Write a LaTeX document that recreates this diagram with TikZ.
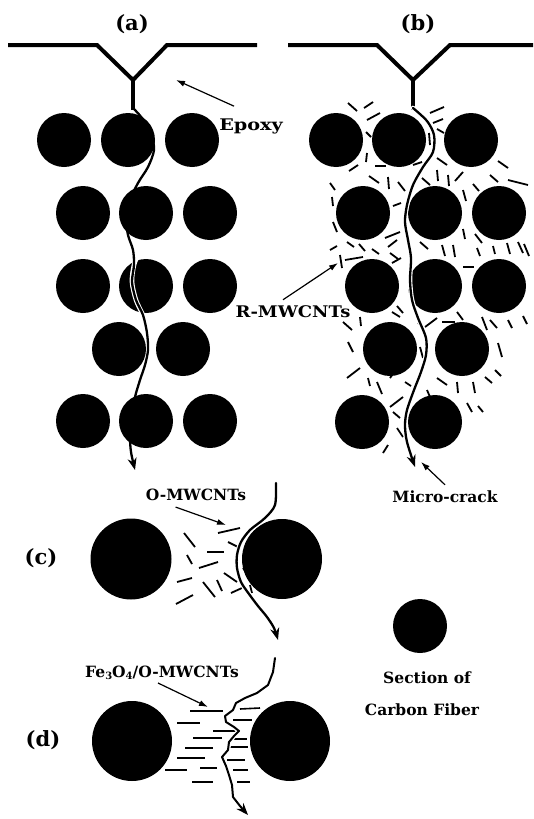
\documentclass[tikz,border=0pt]{standalone}
\usepackage{fontspec}
\setmainfont{DejaVu Serif}
\usetikzlibrary{arrows.meta}
\newcommand\smalldigit[1]{\raisebox{-1.5pt}{\fontsize{10}{10}\selectfont #1}}
\newcommand\widen[2]{\scalebox{#1}[1]{#2}}
\begin{document}
\begin{tikzpicture}[x=1pt,y=-1pt,
  notch/.style={line width=4pt,line join=miter},
  crack/.style={line width=2.3pt,line cap=round,-{Stealth[length=12pt,width=9pt]}},
  halo/.style={white,line width=4.6pt,line cap=round},
  cnt/.style={line width=1.8pt},
  pointer/.style={line width=1.2pt,-{Latex[length=9pt,width=6pt]}},
  lbl/.style={font=\bfseries\fontsize{15.5}{18}\selectfont,inner sep=0pt},
  biglbl/.style={font=\bfseries\fontsize{16}{18}\selectfont,inner sep=0pt},
  panel/.style={font=\bfseries\fontsize{21}{24}\selectfont,inner sep=0pt}]
\useasboundingbox (0,0) rectangle (533,819);
\fill[white] (0,0) rectangle (533,819);

% ---------- (a) laminate without nanotubes ----------
\node[panel] (pa) at (132,24) {(a)};
\draw[notch] (8,45) -- (97,45) -- (133,80) -- (167,45) -- (257,45);
\draw[notch] (133,80) -- (133,110);
\foreach \x in {64,128,192} \fill (\x,140) circle (27pt);
\foreach \y in {213,286,421} \foreach \x in {83,146,210} \fill (\x,\y) circle (27pt);
\foreach \x in {119,183} \fill (\x,349) circle (27pt);
\def\crackA{(133,108) (142,118) (151,133) (154,150) (148,167) (138,183) (130,200) (126,218) (128,235) (133,250) (134,265) (132,282) (136,300) (143,315) (147,333) (148,350) (145,365) (140,380) (135,397) (132,415) (130,435) (131,452) (135,470)}
\draw[halo] plot[smooth] coordinates {(140,250) (134,265) (132,282) (136,300) (143,315)};
\draw[crack] plot[smooth] coordinates \crackA;
\node[biglbl] (epoxy) at (251,126) {\widen{1.2}{Epoxy}};
\coordinate (epoxytip) at (176,80);
\draw[pointer] (epoxy.north west) ++(15,-12) coordinate (epoxytail) -- (epoxytip);

% ---------- (b) laminate with R-MWCNTs ----------
\node[panel] (pb) at (418,24) {(b)};
\draw[notch] (288,45) -- (377,45) -- (413,80) -- (450,45) -- (533,45);
\draw[notch] (413,80) -- (413,110);
\foreach \x in {336,399,471} \fill (\x,140) circle (27pt);
\foreach \x in {363,435,499} \fill (\x,213) circle (27pt);
\foreach \x in {372,435,499} \fill (\x,286) circle (27pt);
\foreach \x in {390,462} \fill (\x,349) circle (27pt);
\foreach \x in {362,435} \fill (\x,422) circle (27pt);
\foreach \ax/\ay/\bx/\by in {
  348/103/357/111, 364/108/373/102, 367/120/380/113, 430/113/444/107,
  433/123/443/119, 437/129/444/133, 429/133/430/145, 366/132/371/137,
  367/153/366/162, 375/166/386/166, 413/165/422/162, 437/158/447/165,
  437/170/438/181, 448/175/449/186, 455/181/463/172, 463/190/466/201,
  473/184/479/191, 490/175/498/182, 498/161/508/168, 508/180/528/185,
  349/171/358/165, 369/176/379/183, 388/177/389/189, 398/182/405/191,
  422/178/430/185, 330/183/335/190, 332/197/333/206, 393/206/401/203,
  333/222/337/232, 385/238/400/232, 330/250/337/246, 347/242/354/247,
  359/244/365/251, 372/249/379/254, 388/247/397/240, 390/253/398/259,
  340/255/342/268, 345/260/363/257, 392/263/401/258, 420/242/428/249,
  442/245/445/256, 453/245/455/257, 463/229/465/239, 475/234/482/243,
  477/248/480/256, 493/246/495/254, 463/267/474/267, 507/243/510/254,
  518/242/523/253, 524/244/529/256, 397/306/403/313, 343/322/352/330,
  360/317/361/326, 392/312/400/317, 418/323/423/327, 425/327/437/318,
  442/322/455/322, 457/312/463/320, 482/317/487/330, 490/320/497/328,
  508/320/512/328, 523/316/527/324, 348/342/353/352, 420/347/423/358,
  498/343/502/357, 347/378/360/368, 368/378/370/386, 377/382/382/394,
  390/378/395/371, 405/382/411/386, 437/378/447/385, 457/382/458/393,
  473/382/475/393, 485/377/492/383, 495/370/501/376, 427/390/430/397,
  390/407/403/397, 393/412/400/418, 467/403/472/412, 478/406/483/412,
  397/428/403/437, 383/453/388/445}
  \draw[cnt] (\ax,\ay) -- (\bx,\by);
\def\crackB{(413,108) (427,121) (434,135) (433,152) (423,167) (413,185) (407,205) (405,222) (408,240) (411,258) (410,280) (412,300) (418,318) (426,338) (426,355) (421,372) (414,390) (407,410) (405,425) (407,442) (415,467)}
\draw[halo] plot[smooth] coordinates \crackB;
\draw[crack] plot[smooth] coordinates \crackB;
\node[biglbl] (rmw) at (293,312) {\widen{1.12}{R-MWCNTs}};
\coordinate (rmwtip) at (338,263);
\draw[pointer] (rmw.north) ++(-10,-6) coordinate (rmwtail) -- (rmwtip);
\node[lbl] (micro) at (445,497) {Micro-crack};
\coordinate (microtip) at (421,462);
\draw[pointer] (micro.north) ++(0,-6) coordinate (microtail) -- (microtip);

% ---------- (c) O-MWCNTs between two fibres ----------
\node[panel] (pc) at (41,558) {(c)};
\fill (131,559) circle (40.5pt);
\fill (282,559) circle (40pt);
\foreach \ax/\ay/\bx/\by in {
  218/533/240/528, 184/533/195/547, 207/552/224/552, 228/542/240/548,
  187/555/192/564, 199/568/218/562, 177/582/192/578, 203/582/215/597,
  217/580/222/591, 224/573/237/582, 176/604/193/595, 231/593/242/588,
  243/568/248/575, 250/585/252/593}
  \draw[cnt] (\ax,\ay) -- (\bx,\by);
\def\crackC{(276,483) (275,505) (265,518) (250,530) (241,542) (237,555) (237,568) (241,582) (249,594) (258,606) (267,617) (274,628) (278,640)}
\draw[halo] plot[smooth] coordinates \crackC;
\draw[crack] plot[smooth] coordinates \crackC;
\node[lbl] (omw) at (196,495) {O-MWCNTs};
\coordinate (omwtip) at (226,525);
\draw[pointer] (omw.south west) ++(30,6) coordinate (omwtail) -- (omwtip);

% ---------- legend ----------
\fill (420,626) circle (27pt);
\node[lbl] (sect) at (427,678) {Section of};
\node[lbl] (carb) at (422,710) {Carbon Fiber};

% ---------- (d) Fe3O4/O-MWCNTs between two fibres ----------
\node[panel] (pd) at (43,740) {(d)};
\fill (132,741) circle (40pt);
\fill (290,741) circle (40pt);
\foreach \ax/\ay/\bx/\by in {
  190/711/223/711, 240/709/260/708, 177/723/200/723, 233/720/252/720,
  213/731/237/731, 193/738/222/738, 233/739/247/739, 185/748/213/748,
  230/747/248/747, 177/758/205/758, 227/760/245/760, 165/770/187/770,
  200/768/217/768, 233/770/248/770, 192/782/213/782, 237/782/250/782}
  \draw[cnt,line width=1.6pt] (\ax,\ay) -- (\bx,\by);
\def\crackD{(275,658) (273,672) (268,685) (257,693) (245,698) (236,703) (233,710) (225,716) (226,722) (234,727) (239,731) (234,736) (229,742) (228,750) (222,757) (226,766) (229,775) (232,785) (233,797) (240,806) (248,815)}
\draw[halo] plot coordinates \crackD;
\draw[crack,line width=2pt,line join=round] plot coordinates \crackD;
\node[lbl] (femw) at (162,673) {Fe\smalldigit{3}O\smalldigit{4}/O-MWCNTs};
\coordinate (femwtip) at (208,707);
\coordinate (femwtail) at (158,683);
\draw[pointer] (femwtail) -- (femwtip);
\end{tikzpicture}
\end{document}
